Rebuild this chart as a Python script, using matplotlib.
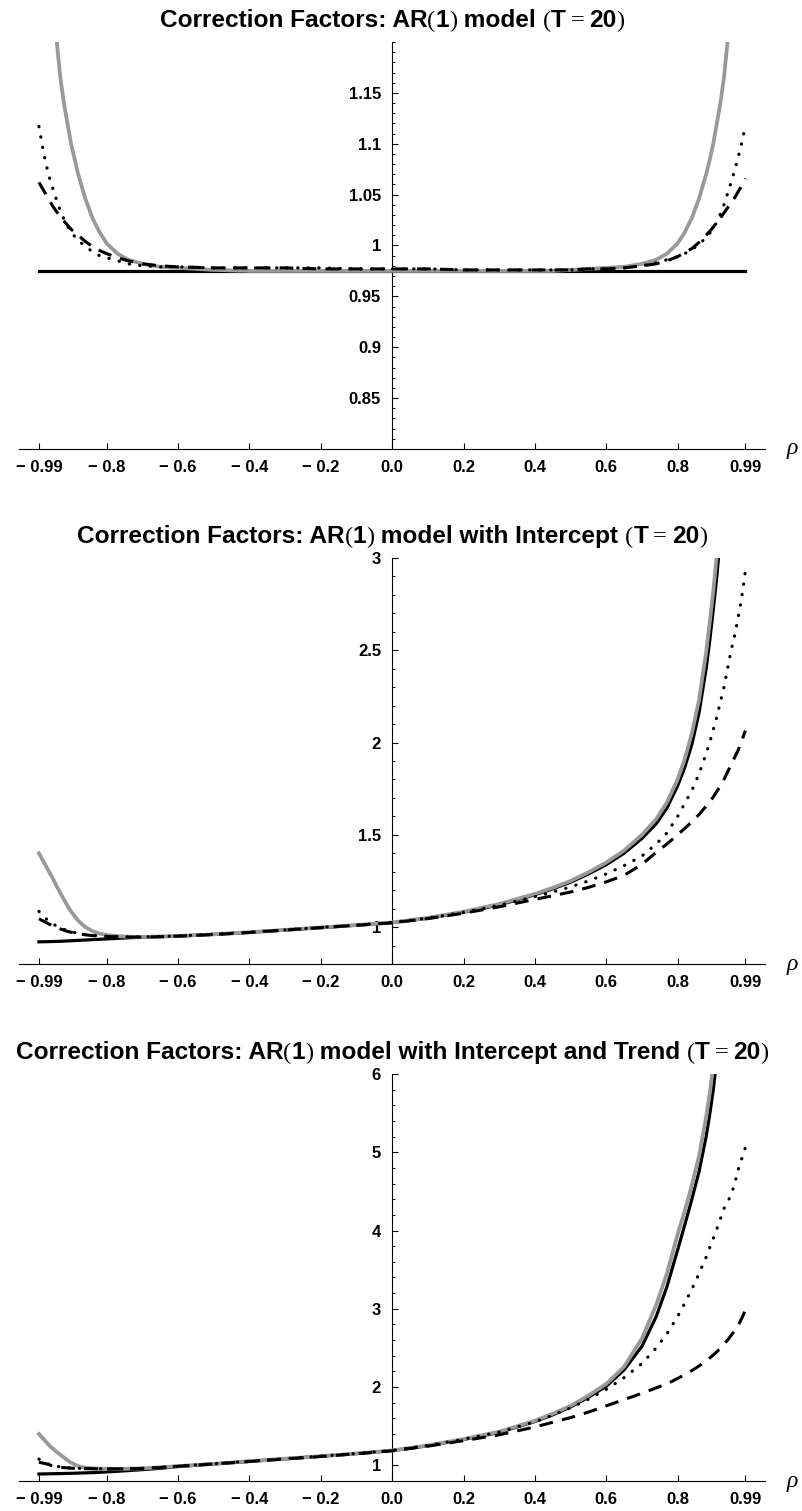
import matplotlib
matplotlib.use("Agg")
import matplotlib.pyplot as plt
from matplotlib.ticker import FixedLocator, MultipleLocator
from matplotlib.offsetbox import TextArea, HPacker, AnchoredOffsetbox

plt.rcParams["font.family"] = "Liberation Sans"

# rho grid shared by every curve (left tail / middle / right tail)
rho = [-0.99, -0.98, -0.97, -0.96, -0.95, -0.94, -0.93, -0.92, -0.91, -0.90, -0.88, -0.86, -0.84, -0.82, -0.80, -0.77, -0.74, -0.70,
       -0.65, -0.60, -0.50, -0.40, -0.30, -0.20, -0.10, 0.00, 0.10, 0.20, 0.30, 0.40, 0.45, 0.50, 0.55, 0.60, 0.65,
       0.70, 0.74, 0.77, 0.80, 0.82, 0.84, 0.86, 0.88, 0.89, 0.90, 0.91, 0.92, 0.93, 0.94, 0.95, 0.96, 0.97, 0.98, 0.99]

x_ticks = [-0.99, -0.8, -0.6, -0.4, -0.2, 0.0, 0.2, 0.4, 0.6, 0.8, 0.99]
x_labels = ["\u2212 0.99", "\u2212 0.8", "\u2212 0.6", "\u2212 0.4", "\u2212 0.2", "0.0",
            "0.2", "0.4", "0.6", "0.8", "0.99"]

# panel 1: AR(1) model
p1_solid = [0.975, 0.975, 0.975, 0.975, 0.975, 0.975, 0.975, 0.975, 0.975, 0.975, 0.975, 0.975, 0.975, 0.975, 0.975, 0.975, 0.975, 0.975,
            0.975, 0.975, 0.975, 0.975, 0.975, 0.975, 0.975, 0.975, 0.975, 0.975, 0.975, 0.975, 0.975, 0.975, 0.975, 0.975, 0.975,
            0.975, 0.975, 0.975, 0.975, 0.975, 0.975, 0.975, 0.975, 0.975, 0.975, 0.975, 0.975, 0.975, 0.975, 0.975, 0.975, 0.975, 0.975, 0.975]
p1_gray = [2.10, 1.70, 1.45, 1.32, 1.25, 1.20, 1.165, 1.14, 1.12, 1.10, 1.07, 1.046, 1.027, 1.013, 1.002, 0.992, 0.986, 0.982,
           0.979, 0.978, 0.976, 0.975, 0.975, 0.975, 0.975, 0.975, 0.975, 0.975, 0.975, 0.975, 0.975, 0.976, 0.977, 0.978, 0.979,
           0.982, 0.986, 0.992, 1.002, 1.013, 1.027, 1.046, 1.070, 1.084, 1.10, 1.12, 1.14, 1.165, 1.20, 1.25, 1.32, 1.45, 1.70, 2.10]
p1_dot = [1.117, 1.097, 1.080, 1.066, 1.055, 1.044, 1.034, 1.026, 1.019, 1.013, 1.005, 0.999, 0.994, 0.990, 0.988, 0.985, 0.982, 0.980,
          0.979, 0.979, 0.978, 0.978, 0.978, 0.978, 0.977, 0.977, 0.977, 0.976, 0.976, 0.976, 0.976, 0.976, 0.977, 0.977, 0.978,
          0.980, 0.983, 0.986, 0.989, 0.992, 0.996, 1.001, 1.008, 1.012, 1.017, 1.023, 1.031, 1.040, 1.051, 1.062, 1.074, 1.087, 1.101, 1.118]
p1_dash = [1.062, 1.056, 1.050, 1.044, 1.038, 1.033, 1.028, 1.024, 1.020, 1.016, 1.010, 1.004, 0.999, 0.995, 0.992, 0.988, 0.985, 0.982,
           0.980, 0.979, 0.978, 0.978, 0.978, 0.977, 0.977, 0.977, 0.977, 0.976, 0.976, 0.976, 0.976, 0.976, 0.977, 0.977, 0.978,
           0.980, 0.982, 0.985, 0.989, 0.993, 0.997, 1.003, 1.010, 1.014, 1.018, 1.023, 1.027, 1.032, 1.037, 1.042, 1.047, 1.053, 1.059, 1.066]

# panel 2: AR(1) model with intercept
p2_solid = [0.920, 0.9205, 0.921, 0.9215, 0.922, 0.9225, 0.923, 0.924, 0.925, 0.926, 0.928, 0.930, 0.932, 0.934, 0.936, 0.939, 0.942, 0.945,
            0.948, 0.951, 0.960, 0.971, 0.984, 0.997, 1.010, 1.024, 1.048, 1.080, 1.120, 1.175, 1.207, 1.243, 1.288, 1.338, 1.400,
            1.480, 1.560, 1.645, 1.765, 1.865, 1.990, 2.160, 2.400, 2.550, 2.720, 2.900, 3.12, 3.37, 3.65, 4.0, 4.5, 5.2, 6.1, 7.3]
p2_gray = [1.40, 1.365, 1.33, 1.295, 1.26, 1.22, 1.185, 1.15, 1.115, 1.085, 1.035, 1.000, 0.978, 0.965, 0.957, 0.951, 0.948, 0.947,
           0.949, 0.952, 0.961, 0.972, 0.985, 0.998, 1.011, 1.025, 1.050, 1.083, 1.125, 1.180, 1.213, 1.250, 1.297, 1.350, 1.415,
           1.500, 1.585, 1.675, 1.800, 1.910, 2.050, 2.230, 2.490, 2.650, 2.820, 3.02, 3.25, 3.5, 3.8, 4.2, 4.7, 5.4, 6.3, 7.5]
p2_dot = [1.085, 1.063, 1.045, 1.030, 1.016, 1.005, 0.996, 0.988, 0.981, 0.975, 0.966, 0.960, 0.955, 0.952, 0.950, 0.948, 0.947, 0.947,
          0.949, 0.952, 0.961, 0.972, 0.985, 0.998, 1.011, 1.025, 1.049, 1.080, 1.118, 1.165, 1.190, 1.218, 1.250, 1.288, 1.333,
          1.385, 1.450, 1.510, 1.600, 1.670, 1.740, 1.830, 1.940, 2.000, 2.070, 2.140, 2.220, 2.300, 2.400, 2.500, 2.580, 2.680, 2.790, 2.930]
p2_dash = [1.045, 1.035, 1.025, 1.015, 1.005, 0.997, 0.990, 0.983, 0.977, 0.972, 0.964, 0.958, 0.954, 0.951, 0.949, 0.947, 0.946, 0.946,
           0.948, 0.951, 0.960, 0.971, 0.984, 0.997, 1.010, 1.023, 1.046, 1.075, 1.110, 1.150, 1.170, 1.190, 1.215, 1.245, 1.280,
           1.340, 1.405, 1.450, 1.500, 1.535, 1.570, 1.610, 1.655, 1.680, 1.705, 1.735, 1.765, 1.800, 1.840, 1.880, 1.920, 1.960, 2.010, 2.065]

# panel 3: AR(1) model with intercept and trend
p3_solid = [0.889, 0.890, 0.891, 0.892, 0.893, 0.894, 0.895, 0.896, 0.897, 0.898, 0.901, 0.904, 0.907, 0.911, 0.916, 0.924, 0.933, 0.945,
            0.962, 0.985, 1.017, 1.050, 1.083, 1.115, 1.150, 1.188, 1.250, 1.330, 1.420, 1.560, 1.645, 1.745, 1.870, 2.010, 2.220,
            2.520, 2.900, 3.280, 3.750, 4.070, 4.400, 4.750, 5.200, 5.480, 5.800, 6.2, 6.7, 7.3, 8.0, 8.8, 9.7, 10.8, 12.2, 14.0]
p3_gray = [1.40, 1.35, 1.30, 1.25, 1.21, 1.17, 1.135, 1.10, 1.065, 1.035, 0.990, 0.970, 0.962, 0.958, 0.956, 0.955, 0.957, 0.962,
           0.975, 0.990, 1.020, 1.053, 1.085, 1.117, 1.152, 1.190, 1.255, 1.335, 1.430, 1.570, 1.660, 1.760, 1.890, 2.040, 2.260,
           2.620, 3.050, 3.450, 3.950, 4.250, 4.580, 4.950, 5.450, 5.750, 6.1, 6.5, 7.0, 7.6, 8.3, 9.0, 10.0, 11.0, 12.5, 14.0]
p3_dot = [1.080, 1.050, 1.030, 1.012, 0.998, 0.988, 0.980, 0.974, 0.969, 0.966, 0.962, 0.959, 0.958, 0.957, 0.956, 0.955, 0.957, 0.962,
          0.975, 0.990, 1.020, 1.053, 1.085, 1.117, 1.152, 1.190, 1.254, 1.333, 1.425, 1.555, 1.640, 1.735, 1.845, 1.970, 2.120,
          2.300, 2.500, 2.680, 2.900, 3.070, 3.250, 3.450, 3.660, 3.780, 3.900, 4.020, 4.150, 4.280, 4.370, 4.450, 4.600, 4.780, 4.920, 5.060]
p3_dash = [1.040, 1.030, 1.020, 1.005, 0.993, 0.984, 0.977, 0.971, 0.967, 0.964, 0.960, 0.958, 0.957, 0.956, 0.955, 0.955, 0.956, 0.960,
           0.972, 0.988, 1.018, 1.050, 1.082, 1.113, 1.148, 1.186, 1.245, 1.315, 1.390, 1.490, 1.550, 1.610, 1.680, 1.760, 1.840,
           1.920, 1.990, 2.040, 2.110, 2.160, 2.210, 2.270, 2.330, 2.370, 2.410, 2.450, 2.500, 2.550, 2.600, 2.660, 2.720, 2.790, 2.880, 2.980]

panels = [
    {"middle": " model ", "solid": p1_solid, "gray": p1_gray, "dot": p1_dot, "dash": p1_dash,
     "ylim": (0.8, 1.2), "yticks": [0.85, 0.9, 0.95, 1.0, 1.05, 1.1, 1.15],
     "ylabels": ["0.85", "0.9", "0.95", "1", "1.05", "1.1", "1.15"], "minor": 0.01,
     "pos": [0.02404, 0.70285, 0.92864, 0.26936]},
    {"middle": " model with Intercept ", "solid": p2_solid, "gray": p2_gray, "dot": p2_dot, "dash": p2_dash,
     "ylim": (0.8, 3.0), "yticks": [1, 1.5, 2, 2.5, 3],
     "ylabels": ["1", "1.5", "2", "2.5", "3"], "minor": 0.1,
     "pos": [0.02404, 0.36201, 0.92864, 0.26870]},
    {"middle": " model with Intercept and Trend ", "solid": p3_solid, "gray": p3_gray, "dot": p3_dot, "dash": p3_dash,
     "ylim": (0.8, 6.0), "yticks": [1, 2, 3, 4, 5, 6],
     "ylabels": ["1", "2", "3", "4", "5", "6"], "minor": 0.2,
     "pos": [0.02404, 0.019854, 0.92864, 0.26936]},
]


def add_title(ax, middle):
    bold = dict(fontsize=17.6, fontweight="bold", family="Liberation Sans")
    thin = dict(fontsize=17.6, fontweight="normal", family=["Liberation Serif", "DejaVu Serif"])
    parts = [("Correction Factors: AR", bold), ("(", thin), ("1", bold), (")", thin),
             (middle, bold), ("(", thin), ("T", bold), ("\u2009=\u2009", thin), ("20", bold), (")", thin)]
    areas = [TextArea(s, textprops=p) for s, p in parts]
    box = HPacker(children=areas, align="baseline", pad=0, sep=0)
    anchored = AnchoredOffsetbox(loc="center", child=box, bbox_to_anchor=(0.5, 1.053),
                                 bbox_transform=ax.transAxes, frameon=False, pad=0, borderpad=0)
    ax.add_artist(anchored)


fig = plt.figure(figsize=(8.03, 15.11), dpi=100)

for p in panels:
    ax = fig.add_axes(p["pos"])
    ax.plot(rho, p["solid"], color="black", lw=2.3, zorder=2)
    ax.plot(rho, p["gray"], color="#999999", lw=2.7, zorder=3)
    ax.plot(rho, p["dot"], color="black", lw=2.3, linestyle=(0, (0.1, 3.2)),
            dash_capstyle="round", zorder=4)
    ax.plot(rho, p["dash"], color="black", lw=2.2, linestyle=(0, (4.5, 3.0)), zorder=5)

    ax.set_xlim(-1.045, 1.045)
    ax.set_ylim(*p["ylim"])
    for side in ["top", "right"]:
        ax.spines[side].set_visible(False)
    ax.spines["left"].set_position(("data", 0))
    for side in ["left", "bottom"]:
        ax.spines[side].set_linewidth(0.8)

    ax.set_xticks(x_ticks)
    ax.set_xticklabels(x_labels, fontsize=12, fontweight="bold")
    ax.yaxis.set_major_locator(FixedLocator(p["yticks"]))
    ax.set_yticklabels(p["ylabels"], fontsize=12, fontweight="bold")
    ax.yaxis.set_minor_locator(MultipleLocator(p["minor"]))
    ax.tick_params(axis="x", direction="in", length=4, width=0.8, pad=8)
    ax.tick_params(axis="y", which="major", direction="in", length=4, width=0.8, pad=8)
    ax.tick_params(axis="y", which="minor", direction="in", length=2.5, width=0.7)

    ax.text(1.036, 0.0, "\u03c1", transform=ax.transAxes, fontsize=17, family="Liberation Serif",
            style="italic", ha="center", va="center", clip_on=False)
    add_title(ax, p["middle"])

fig.savefig("out.png", dpi=100)
